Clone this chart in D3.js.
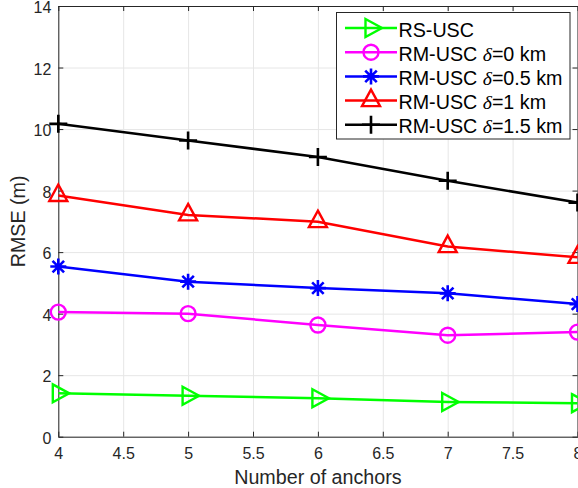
<!DOCTYPE html>
<html>
<head>
<meta charset="utf-8">
<script src="https://cdn.jsdelivr.net/npm/d3@7"></script>
<style>
  body { margin: 0; background: #fff; }
  text { font-family: "Liberation Sans", Arial, sans-serif; }
</style>
</head>
<body>
<div id="chart"></div>
<script>
// data
const anchors = [4, 5, 6, 7, 8];
const rsUsc = [1.41, 1.33, 1.25, 1.13, 1.09];
const rmUsc0 = [4.05, 4.00, 3.63, 3.30, 3.40];
const rmUsc05 = [5.53, 5.04, 4.83, 4.66, 4.31];
const rmUsc1 = [7.84, 7.21, 6.99, 6.18, 5.83];
const rmUsc15 = [10.17, 9.63, 9.09, 8.32, 7.61];
const xTicks = [4, 4.5, 5, 5.5, 6, 6.5, 7, 7.5, 8];
const yTicks = [0, 2, 4, 6, 8, 10, 12, 14];

const series = [
  { name: "RS-USC", delta: null, values: rsUsc, color: "#00ff00", marker: "right" },
  { name: "RM-USC ", delta: "0 km", values: rmUsc0, color: "#ff00ff", marker: "circle" },
  { name: "RM-USC ", delta: "0.5 km", values: rmUsc05, color: "#0000ff", marker: "star" },
  { name: "RM-USC ", delta: "1 km", values: rmUsc1, color: "#ff0000", marker: "up" },
  { name: "RM-USC ", delta: "1.5 km", values: rmUsc15, color: "#000000", marker: "plus" }
];

const W = 578, H = 488;
const pLeft = 58.3, pRight = 577.5, pTop = 6, pBottom = 436.7;
const axisColor = "#262626";

const svg = d3.select("#chart").append("svg")
  .attr("width", W)
  .attr("height", H);

const x = d3.scaleLinear().domain([4, 8]).range([pLeft, pRight]);
const y = d3.scaleLinear().domain([0, 14]).range([pBottom, pTop]);

// grid
svg.append("g")
  .attr("transform", `translate(0,${pBottom})`)
  .call(d3.axisBottom(x).tickValues(xTicks).tickSize(-(pBottom - pTop)).tickFormat(""))
  .call(g => g.select(".domain").remove())
  .selectAll("line").attr("stroke", "#e6e6e6");

svg.append("g")
  .attr("transform", `translate(${pLeft},0)`)
  .call(d3.axisLeft(y).tickValues(yTicks).tickSize(-(pRight - pLeft)).tickFormat(""))
  .call(g => g.select(".domain").remove())
  .selectAll("line").attr("stroke", "#e6e6e6");

// axes (inner ticks, box on)
const fmt = d3.format("~g");
const xAxis = svg.append("g")
  .attr("transform", `translate(0,${pBottom})`)
  .call(d3.axisBottom(x).tickValues(xTicks).tickFormat(fmt).tickSizeInner(-5).tickSizeOuter(0).tickPadding(11));
const yAxis = svg.append("g")
  .attr("transform", `translate(${pLeft},0)`)
  .call(d3.axisLeft(y).tickValues(yTicks).tickFormat(fmt).tickSizeInner(-5).tickSizeOuter(0).tickPadding(7));
const topAxis = svg.append("g")
  .attr("transform", `translate(0,${pTop})`)
  .call(d3.axisTop(x).tickValues(xTicks).tickFormat("").tickSizeInner(-5).tickSizeOuter(0));
const rightAxis = svg.append("g")
  .attr("transform", `translate(${pRight},0)`)
  .call(d3.axisRight(y).tickValues(yTicks).tickFormat("").tickSizeInner(-5).tickSizeOuter(0));

[xAxis, yAxis].forEach(a => {
  a.selectAll("text").attr("fill", axisColor).style("font-size", "16px");
});
yAxis.selectAll("text").attr("dy", "0.42em");
[xAxis, yAxis, topAxis, rightAxis].forEach(a => {
  a.selectAll(".domain, .tick line").attr("stroke", axisColor);
});

// axis labels
svg.append("text")
  .attr("x", (pLeft + pRight) / 2)
  .attr("y", 484)
  .attr("text-anchor", "middle")
  .attr("fill", axisColor)
  .style("font-size", "19.7px")
  .text("Number of anchors");

svg.append("text")
  .attr("transform", `translate(24.5,${(pTop + pBottom) / 2}) rotate(-90)`)
  .attr("text-anchor", "middle")
  .attr("fill", axisColor)
  .style("font-size", "19.7px")
  .text("RMSE (m)");

// markers
function drawMarker(g, type, cx, cy, color) {
  const m = g.append("g").attr("transform", `translate(${cx},${cy})`)
    .attr("fill", "none").attr("stroke", color).attr("stroke-width", 2.4);
  if (type === "circle") {
    m.append("circle").attr("r", 7.5);
  } else if (type === "right") {
    // centroid at data point
    m.append("path").attr("d", "M-5.5,-9L11,0L-5.5,9Z");
  } else if (type === "up") {
    m.append("path").attr("d", "M0,-11L9,5.5L-9,5.5Z");
  } else if (type === "plus") {
    m.append("path").attr("d", "M-9,0H9M0,-9V9").attr("stroke-width", 2.6);
  } else if (type === "star") {
    const r = 8, d = r * 0.72;
    m.append("path").attr("d", `M-${r},0H${r}M0,-${r}V${r}M-${d},-${d}L${d},${d}M-${d},${d}L${d},-${d}`)
      .attr("stroke-width", 2.6);
  }
}

const line = d3.line()
  .x((d, i) => x(anchors[i]))
  .y(d => y(d));

series.forEach(s => {
  svg.append("path")
    .attr("d", line(s.values))
    .attr("fill", "none")
    .attr("stroke", s.color)
    .attr("stroke-width", 2.5);
  const mg = svg.append("g");
  s.values.forEach((v, i) => drawMarker(mg, s.marker, x(anchors[i]), y(v), s.color));
});

// legend
const lg = svg.append("g");
lg.append("rect")
  .attr("x", 336.5).attr("y", 12.5)
  .attr("width", 233.5).attr("height", 126.5)
  .attr("fill", "#fff")
  .attr("stroke", axisColor)
  .attr("stroke-width", 1);

series.forEach((s, i) => {
  const ly = 28 + i * 24.2;
  lg.append("line")
    .attr("x1", 345).attr("x2", 397)
    .attr("y1", ly).attr("y2", ly)
    .attr("stroke", s.color).attr("stroke-width", 2.5);
  drawMarker(lg, s.marker, 371, ly, s.color);
  const t = lg.append("text")
    .attr("x", 398.5)
    .attr("y", ly + 8.5)
    .attr("fill", "#000")
    .style("font-size", "19.7px");
  t.append("tspan").text(s.name);
  if (s.delta) {
    t.append("tspan")
      .style("font-family", "'Liberation Serif', serif")
      .style("font-style", "italic")
      .text("δ");
    t.append("tspan").text("=" + s.delta);
  }
});
</script>
</body>
</html>
